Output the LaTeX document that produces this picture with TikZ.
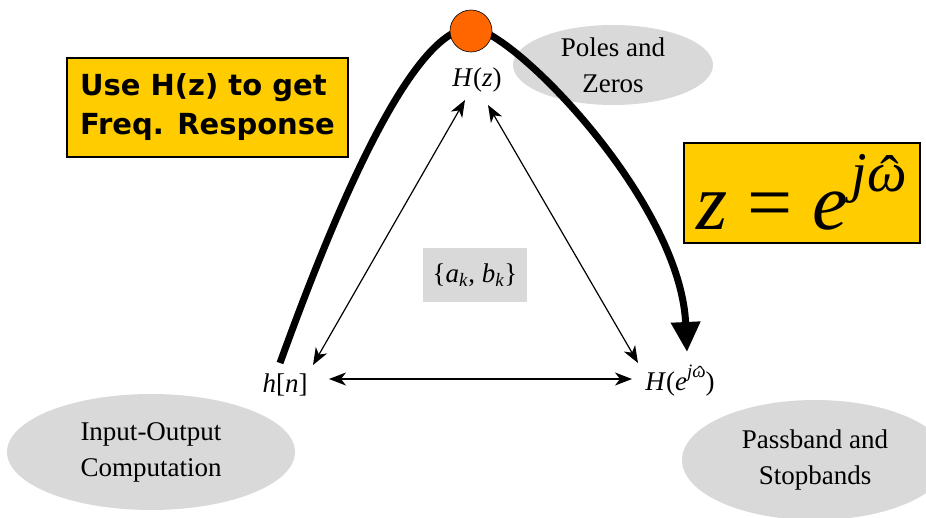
\documentclass[tikz,border=0pt]{standalone}
\usepackage{fontspec}
\setmainfont{Liberation Serif}
\newfontfamily\boxfont{DejaVu Sans}
\usetikzlibrary{arrows.meta,shapes.geometric}
\definecolor{ygold}{HTML}{FFCC00}
\definecolor{porange}{HTML}{FF6600}
\definecolor{lgray}{HTML}{D9D9D9}
\newcommand\mi[1]{\textit{#1}}
\newcommand\omhat{\ooalign{\itshape ω\cr\hidewidth\kern0.1em\raisebox{-0.06em}{\upshape ˆ}\hidewidth\cr}}
\newcommand\supjw{\raisebox{0.48em}{\fontsize{0.7\dimexpr\csname f@size\endcsname pt\relax}{1pt}\selectfont\mi{j}\omhat}}
\begin{document}
\begin{tikzpicture}[x=1pt,y=-1pt,
  lbl/.style={font=\fontsize{27}{31}\selectfont, inner sep=0pt, align=center},
  blob/.style={ellipse, fill=lgray, draw=none, inner sep=0pt, align=center, font=\fontsize{27}{36}\selectfont},
  notebox/.style={draw=black, line width=2pt, fill=ygold, inner sep=0pt},
  thinarrow/.style={line width=1.2pt, {Stealth[length=17pt,width=13pt,inset=5pt]}-{Stealth[length=17pt,width=13pt,inset=5pt]}},
  bigarrow/.style={line width=7pt, -{Triangle[length=30pt,width=28pt]}}]
\useasboundingbox (0,0) rectangle (926,517);
% ellipses
\node[blob, minimum width=200pt, minimum height=80pt] (pz) at (613,65) {Poles and\\Zeros};
\node[blob, minimum width=288pt, minimum height=116pt] (io) at (151,452) {Input-Output\\Computation};
\node[blob, minimum width=266pt, minimum height=120pt] (pb) at (815,460) {Passband and\\Stopbands};
% yellow boxes
\node[notebox, minimum width=281pt, minimum height=99pt, align=left,
  font=\boxfont\bfseries\fontsize{29}{39}\selectfont] (use) at (207.5,107) {Use H(z) to get\\Freq. Response};
\node[notebox, minimum width=236pt, minimum height=100pt,
  font=\fontsize{80}{90}\selectfont] (zeq) at (801.5,192.5) {\mi{z}\hspace{0.25em}=\hspace{0.25em}\mi{e}\kern0.04em\supjw};
% labels
\node[lbl] (hz) at (477,80) {\mi{H}(\mi{z})};
\node[lbl] (hn) at (285,385) {\mi{h}[\mi{n}]};
\node[lbl] (hw) at (680,381) {\mi{H}(\mi{e}\supjw)};
\node[lbl, fill=lgray, minimum width=104pt, minimum height=54pt] (ab) at (475,275) {\{\mi{a}\textsubscript{\mi{k}}, \mi{b}\textsubscript{\mi{k}}\}};
% thin arrows
\coordinate (hzL) at (465,100);
\coordinate (hzR) at (488,105);
\coordinate (hnT) at (313,365);
\coordinate (hwT) at (638,363);
\coordinate (hnR) at (329,379);
\coordinate (hwL) at (632,379);
\draw[thinarrow] (hzL) -- (hnT);
\draw[thinarrow] (hzR) -- (hwT);
\draw[thinarrow] (hnR) -- (hwL);
% thick curve
\coordinate (cs) at (280,363);
\coordinate (ce) at (687,352);
\draw[bigarrow] (cs) .. controls (321,250) and (406,28) .. (471,28)
  .. controls (511,28) and (680,200) .. (ce);
\node[circle, fill=porange, draw=black, line width=0.6pt, minimum size=42pt, inner sep=0pt] (pk) at (471,31) {};
\end{tikzpicture}
\end{document}
